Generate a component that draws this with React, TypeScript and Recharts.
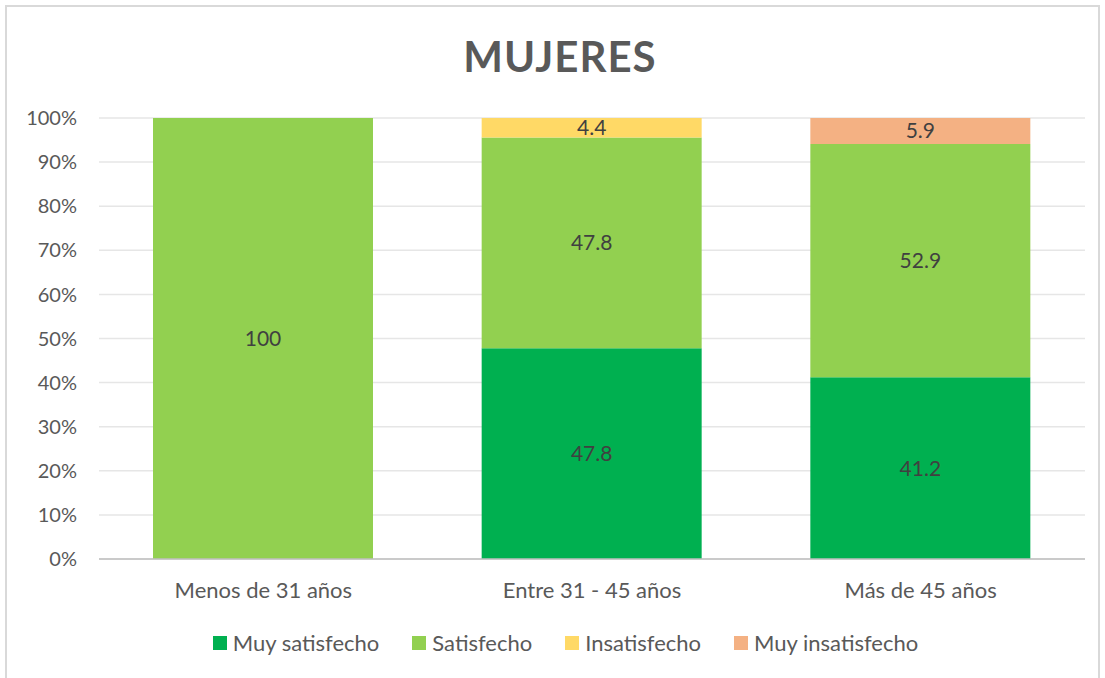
import React from 'react';
import {
  BarChart,
  Bar,
  XAxis,
  YAxis,
  CartesianGrid,
  Legend,
  LabelList,
} from 'recharts';

const CATEGORIES = ['Menos de 31 años', 'Entre 31 - 45 años', 'Más de 45 años'];
const MUY_SATISFECHO = [0, 47.8, 41.2];
const SATISFECHO = [100, 47.8, 52.9];
const INSATISFECHO = [0, 4.4, 0];
const MUY_INSATISFECHO = [0, 0, 5.9];
const Y_TICKS = [0, 10, 20, 30, 40, 50, 60, 70, 80, 90, 100];

const SERIES = [
  { key: 'muySatisfecho', name: 'Muy satisfecho', color: '#00B050' },
  { key: 'satisfecho', name: 'Satisfecho', color: '#92D050' },
  { key: 'insatisfecho', name: 'Insatisfecho', color: '#FFD966' },
  { key: 'muyInsatisfecho', name: 'Muy insatisfecho', color: '#F4B183' },
];

const data = CATEGORIES.map((name, i) => ({
  name,
  muySatisfecho: MUY_SATISFECHO[i],
  satisfecho: SATISFECHO[i],
  insatisfecho: INSATISFECHO[i],
  muyInsatisfecho: MUY_INSATISFECHO[i],
}));

const FONT = 'Lato, "Open Sans", sans-serif';
const TEXT = '#595959';

const LegendContent = () => (
  <div
    style={{
      display: 'flex',
      justifyContent: 'center',
      alignItems: 'flex-start',
      height: 69,
      paddingTop: 20,
      boxSizing: 'border-box',
      fontFamily: FONT,
      fontSize: 22,
      color: TEXT,
      marginLeft: 46,
    }}
  >
    {SERIES.map((s, i) => (
      <div key={s.key} style={{ display: 'flex', alignItems: 'center', marginRight: i < SERIES.length - 1 ? 33 : 0 }}>
        <span style={{ width: 14, height: 14, background: s.color, display: 'inline-block', marginRight: 6 }} />
        <span>{s.name}</span>
      </div>
    ))}
  </div>
);

export default function App() {
  return (
    <div style={{ position: 'absolute', left: 0, top: 0, width: 1105, height: 678, background: '#fff' }}>
      <div
        style={{
          position: 'absolute',
          left: 5,
          top: 5,
          width: 1095,
          height: 680,
          border: '2px solid #D9D9D9',
          boxSizing: 'border-box',
        }}
      />
      <div
        style={{
          position: 'absolute',
          left: 0,
          top: 31,
          width: 1120,
          textAlign: 'center',
          fontFamily: FONT,
          fontWeight: 'bold',
          fontSize: 42,
          color: TEXT,
          letterSpacing: 1,
        }}
      >
        MUJERES
      </div>
      <div style={{ position: 'absolute', left: 0, top: 0 }}>
        <BarChart
          width={1105}
          height={678}
          data={data}
          margin={{ top: 118, right: 20, left: 0, bottom: 0 }}
          barSize={220}
        >
          <CartesianGrid vertical={false} stroke="#E6E6E6" strokeWidth={1.5} />
          <XAxis
            dataKey="name"
            axisLine={{ stroke: '#BFBFBF', strokeWidth: 1.5 }}
            tickLine={false}
            tickMargin={17}
            height={50}
            tick={{ fill: TEXT, fontSize: 22, fontFamily: FONT }}
          />
          <YAxis
            domain={[0, 100]}
            ticks={Y_TICKS}
            tickFormatter={(v) => `${v}%`}
            axisLine={false}
            tickLine={false}
            tickSize={0}
            tickMargin={22}
            width={99}
            tick={{ fill: TEXT, fontSize: 20, fontFamily: FONT }}
          />
          <Legend verticalAlign="bottom" height={69} content={<LegendContent />} />
          {SERIES.map((s) => (
            <Bar key={s.key} dataKey={s.key} name={s.name} stackId="a" fill={s.color} isAnimationActive={false}>
              <LabelList
                dataKey={s.key}
                position="center"
                formatter={(v: any) => (v ? v : '')}
                style={{ fill: '#404040', fontSize: 21, fontFamily: FONT }}
              />
            </Bar>
          ))}
        </BarChart>
      </div>
    </div>
  );
}
